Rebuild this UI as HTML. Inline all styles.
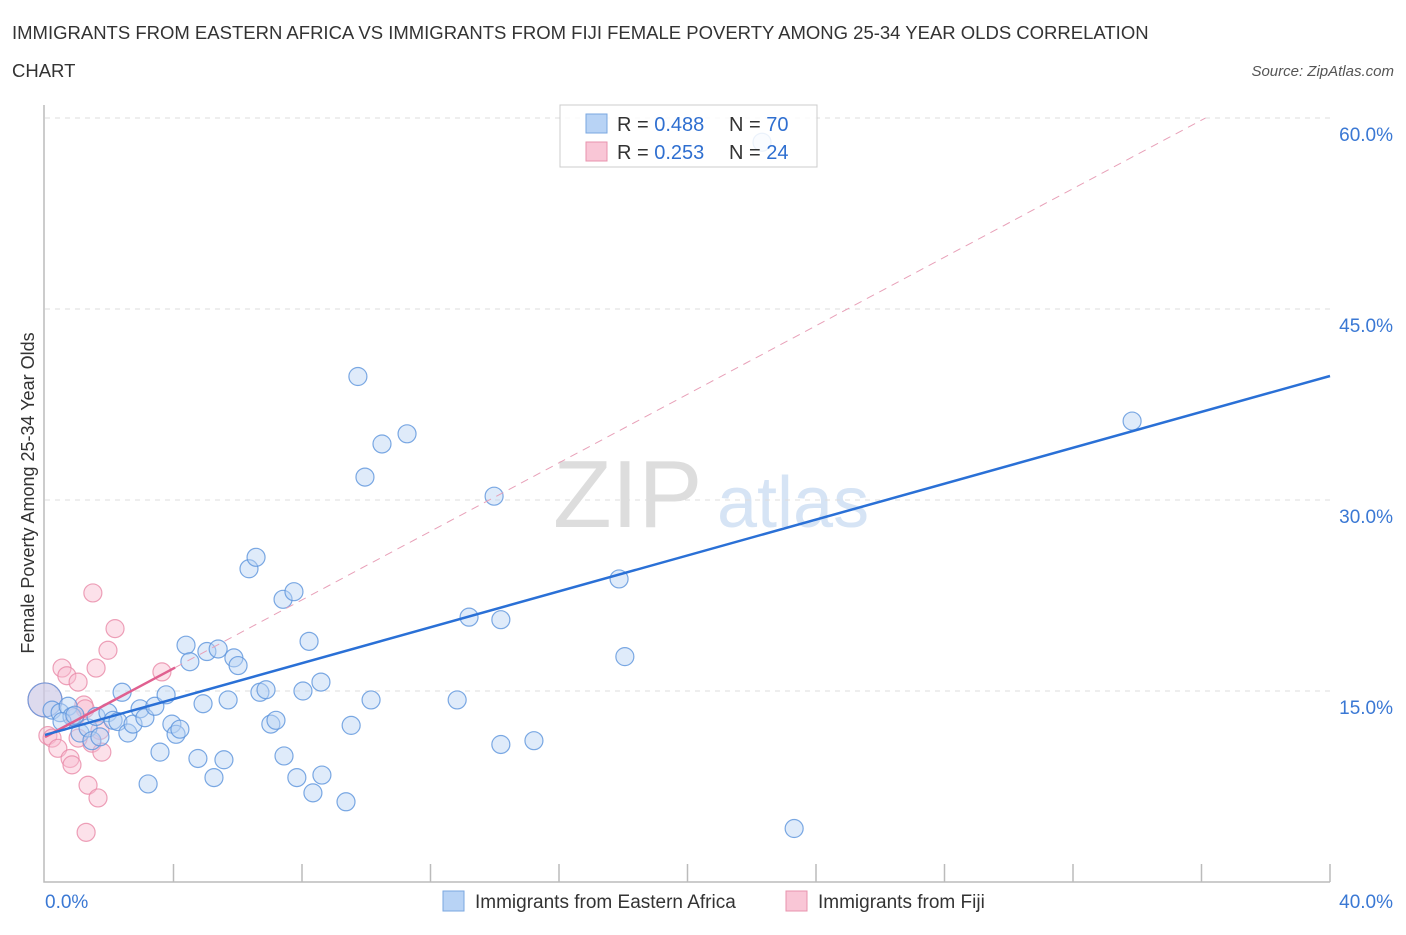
<!DOCTYPE html>
<html><head><meta charset="utf-8"><style>
body{margin:0;background:#fff;font-family:"Liberation Sans",sans-serif;}
svg text{font-family:"Liberation Sans",sans-serif;}
</style></head><body>
<svg id="chart" width="1406" height="930" xmlns="http://www.w3.org/2000/svg">
<text x="12" y="39" font-size="18.5" fill="#333">IMMIGRANTS FROM EASTERN AFRICA VS IMMIGRANTS FROM FIJI FEMALE POVERTY AMONG 25-34 YEAR OLDS CORRELATION</text>
<text x="12" y="77" font-size="18.5" fill="#333">CHART</text>
<text x="1394" y="76" font-size="15" fill="#555" text-anchor="end" font-style="italic">Source: ZipAtlas.com</text>
<text x="553" y="527" font-size="96" fill="#ddd" font-family="Liberation Serif">ZIP</text>
<text x="717" y="527" font-size="72" fill="#d6e4f5">atlas</text>
<text transform="translate(34,493) rotate(-90)" font-size="18" fill="#333" text-anchor="middle">Female Poverty Among 25-34 Year Olds</text>
<g id="grid"></g><g id="axes"></g><g id="marks"></g>
<g>
<rect x="560" y="105" width="257" height="62" fill="#fff" fill-opacity="0.85" stroke="#ccc"/>
<rect x="586" y="114" width="21" height="19" fill="#b8d3f5" stroke="#7aa7e0"/>
<rect x="586" y="142" width="21" height="19" fill="#f9c6d6" stroke="#e893ad"/>
<text x="617" y="131" font-size="20" fill="#333">R = <tspan fill="#2f6fd0">0.488</tspan></text>
<text x="729" y="131" font-size="20" fill="#333">N = <tspan fill="#2f6fd0">70</tspan></text>
<text x="617" y="159" font-size="20" fill="#333">R = <tspan fill="#2f6fd0">0.253</tspan></text>
<text x="729" y="159" font-size="20" fill="#333">N = <tspan fill="#2f6fd0">24</tspan></text>
</g>
<g>
<rect x="443" y="891" width="21" height="20" fill="#b8d3f5" stroke="#7aa7e0"/>
<text x="475" y="908" font-size="19" fill="#333">Immigrants from Eastern Africa</text>
<rect x="786" y="891" width="21" height="20" fill="#f9c6d6" stroke="#e893ad"/>
<text x="818" y="908" font-size="19" fill="#333">Immigrants from Fiji</text>
</g>
</svg>
<script>
const yTicks=[15,30,45,60];
const yTickLabels=["15.0%","30.0%","45.0%","60.0%"];
const xTicks=[0,4,8,12,16,20,24,28,32,36,40];
const blueX=[0,0.22,0.47,0.72,0.84,0.53,0.93,1.09,1.34,1.46,1.71,1.59,1.96,2.12,2.27,2.40,2.58,2.74,2.96,3.11,3.21,3.42,3.58,3.77,3.95,4.08,4.20,4.39,4.51,4.76,4.92,5.04,5.26,5.39,5.57,5.70,5.88,6.01,6.35,6.57,6.69,6.88,7.03,7.19,7.44,7.41,7.75,7.84,8.03,8.22,8.34,8.59,8.62,9.37,9.53,9.74,9.96,10.15,10.49,11.27,12.83,13.20,13.98,14.19,14.19,15.22,17.87,18.05,22.32,23.32,33.84];
const blueY=[14.3,13.5,13.3,13.8,13.0,12.6,13.1,11.7,12.1,11.1,11.4,13.0,13.3,12.7,12.6,14.9,11.7,12.4,13.6,12.9,7.7,13.8,10.2,14.7,12.4,11.6,12.0,18.6,17.3,9.7,14.0,18.1,8.2,18.3,9.6,14.3,17.6,17.0,24.6,25.5,14.9,15.1,12.4,12.7,9.9,22.2,22.8,8.2,15.0,18.9,7.0,15.7,8.4,6.3,12.3,39.7,31.8,14.3,34.4,35.2,14.3,20.8,30.3,20.6,10.8,11.1,23.8,17.7,58.1,4.2,36.2];
const pinkX=[0,0.09,0.22,0.40,0.53,0.68,0.78,0.93,0.84,1.03,1.21,1.28,1.34,1.46,1.49,1.59,1.65,1.77,1.96,2.18,3.64,1.03,1.25,1.71];
const pinkY=[14.3,11.5,11.3,10.5,16.8,16.2,9.7,12.9,9.2,15.7,13.9,3.9,7.6,10.9,22.7,16.8,6.6,10.2,18.2,19.9,16.5,11.3,13.6,11.9];
const blueFit=[11.55,39.74];
const pinkFit=[11.39,16.84];
const x=v=>45+v*32.125, y=v=>882-v*12.733;
const NS="http://www.w3.org/2000/svg";
function mk(t,a,p){const e=document.createElementNS(NS,t);for(const k in a)e.setAttribute(k,a[k]);p.appendChild(e);return e;}
const grid=document.getElementById('grid'),axes=document.getElementById('axes'),marks=document.getElementById('marks');
yTicks.forEach((t,i)=>{
 const l=mk('line',{x1:45,x2:1330,y1:y(t),y2:y(t),stroke:'#ddd','stroke-dasharray':'5,5'},grid);
 
 
 const tx=mk('text',{x:1393,y:y(t)+23,'font-size':19,fill:'#3a78d4','text-anchor':'end'},axes);
 tx.textContent=yTickLabels[i];
 
 
});
const ax=mk('path',{d:'M44,105V882H1330',fill:'none',stroke:'#bbb','stroke-width':1.5},axes);


xTicks.forEach(t=>{
 if(t===0)return;
 const l=mk('line',{x1:x(t),x2:x(t),y1:864,y2:882,stroke:'#bbb','stroke-width':1.5},axes);
 
 
});
const xl0=mk('text',{x:45,y:908,'font-size':19,fill:'#3a78d4'},axes);xl0.textContent='0.0%';


const xl1=mk('text',{x:1393,y:908,'font-size':19,fill:'#3a78d4','text-anchor':'end'},axes);xl1.textContent='40.0%';


function pts(X,Y,fill,stroke,name){X.forEach((v,i)=>{
 const c=mk('circle',{cx:x(v),cy:y(Y[i]),r:i===0?17:9,fill:fill,stroke:stroke,'stroke-width':1.2,'fill-opacity':0.45,'stroke-opacity':0.8},marks);
 
 
});}
pts(pinkX,pinkY,'#f8bcd0','#e88aa8','fiji-point');
pts(blueX,blueY,'#b8d3f5','#5b93dc','eastern-africa-point');
const ps=(pinkFit[1]-pinkFit[0])/4.05;
const xEnd=(60-pinkFit[0])/ps;
const d=mk('line',{x1:x(4.05),y1:y(pinkFit[1]),x2:x(xEnd),y2:y(60),stroke:'#e8a0b8','stroke-width':1,'stroke-dasharray':'8,6'},marks);


const pl=mk('line',{x1:x(0),y1:y(pinkFit[0]),x2:x(4.05),y2:y(pinkFit[1]),stroke:'#e06090','stroke-width':2.5},marks);


const bl=mk('line',{x1:x(0),y1:y(blueFit[0]),x2:x(40),y2:y(blueFit[1]),stroke:'#2a70d6','stroke-width':2.5},marks);


</script>
</body></html>
